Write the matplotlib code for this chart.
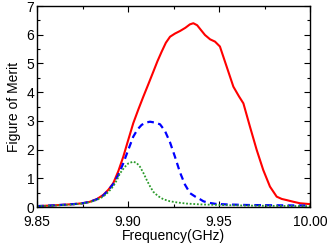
import matplotlib
matplotlib.use("Agg")
import matplotlib.pyplot as plt
from matplotlib.ticker import MultipleLocator

plt.rcParams['font.family'] = ['Liberation Sans', 'DejaVu Sans']

# values
freq_red = [9.850, 9.860, 9.870, 9.875, 9.879, 9.883, 9.8864, 9.8892, 9.8919, 9.8947,
            9.8974, 9.9002, 9.9029, 9.9057, 9.9084, 9.9112, 9.9139, 9.9162, 9.9185,
            9.9208, 9.9231, 9.9258, 9.9286, 9.9315, 9.9340, 9.9359, 9.9380, 9.9400,
            9.9423, 9.9451, 9.9478, 9.9505, 9.9542, 9.9579, 9.9610, 9.9634, 9.9670,
            9.9707, 9.9743, 9.9780, 9.9817, 9.9845, 9.9872, 9.9910, 9.9945, 10.000]
fom_red = [0.03, 0.06, 0.10, 0.13, 0.18, 0.28, 0.42, 0.60, 0.83, 1.25,
           1.75, 2.35, 2.92, 3.40, 3.84, 4.28, 4.71, 5.08, 5.41, 5.72,
           5.93, 6.04, 6.13, 6.24, 6.36, 6.40, 6.33, 6.17, 5.99, 5.84,
           5.76, 5.59, 4.89, 4.19, 3.85, 3.61, 2.80, 1.99, 1.29, 0.71,
           0.36, 0.28, 0.24, 0.18, 0.13, 0.10]

freq_blue = [9.850, 9.860, 9.870, 9.875, 9.879, 9.883, 9.8864, 9.8892, 9.8919, 9.8947,
             9.8974, 9.9002, 9.9029, 9.9052, 9.9075, 9.9098, 9.9121, 9.9148, 9.9176,
             9.9203, 9.9231, 9.9258, 9.9286, 9.9313, 9.9341, 9.9370, 9.9396, 9.9414,
             9.9441, 9.9480, 9.9540, 9.9650, 9.9800, 10.000]
fom_blue = [0.03, 0.06, 0.10, 0.13, 0.18, 0.27, 0.40, 0.58, 0.80, 1.12,
            1.52, 2.00, 2.45, 2.70, 2.86, 2.94, 2.97, 2.94, 2.88,
            2.65, 2.25, 1.75, 1.20, 0.78, 0.48, 0.36, 0.27, 0.20,
            0.15, 0.11, 0.09, 0.07, 0.06, 0.05]

freq_green = [9.850, 9.860, 9.870, 9.875, 9.879, 9.883, 9.8864, 9.8892, 9.8919, 9.8940,
              9.8956, 9.8980, 9.9002, 9.9029, 9.9048, 9.9066, 9.9085, 9.9103, 9.9121,
              9.9139, 9.9165, 9.9194, 9.9230, 9.9268, 9.9320, 9.9400, 9.9500, 9.9650,
              9.9800, 10.000]
fom_green = [0.03, 0.05, 0.09, 0.12, 0.17, 0.25, 0.36, 0.52, 0.72, 0.95,
             1.17, 1.38, 1.52, 1.58, 1.53, 1.40, 1.18, 0.94, 0.72,
             0.53, 0.38, 0.27, 0.20, 0.16, 0.12, 0.09, 0.07, 0.05,
             0.04, 0.03]

fig = plt.figure(figsize=(3.27, 2.45), dpi=100)
ax = fig.add_axes([37/327, 1 - 207/245, 273/327, 201/245])

ax.plot(freq_red, fom_red, color='#ff0000', lw=1.5)
ax.plot(freq_blue, fom_blue, color='#0000ff', lw=1.6, ls=(0, (3, 2)))
ax.plot(freq_green, fom_green, color='#2a9a2a', lw=1.3, ls=(0, (1, 1)))

ax.set_xlim(9.85, 10.0)
ax.set_ylim(0, 7)
ax.xaxis.set_minor_locator(MultipleLocator(0.025))
ax.yaxis.set_major_locator(MultipleLocator(1))
ax.yaxis.set_minor_locator(MultipleLocator(0.5))
ax.set_xticks([9.85, 9.90, 9.95, 10.00])
ax.set_xticklabels(['9.85', '9.90', '9.95', '10.00'])
ax.tick_params(which='both', direction='in', top=True, right=True, labelsize=10)
ax.tick_params(axis='x', pad=5.5)
ax.tick_params(axis='y', pad=2)
ax.tick_params(which='major', length=4, width=0.8)
ax.tick_params(which='minor', length=2, width=0.8)
for s in ax.spines.values():
    s.set_linewidth(1.0)

ax.set_xlabel('Frequency(GHz)', fontsize=10, labelpad=0)
ax.set_ylabel('Figure of Merit', fontsize=10, labelpad=4)

fig.savefig('out.png', dpi=100)
